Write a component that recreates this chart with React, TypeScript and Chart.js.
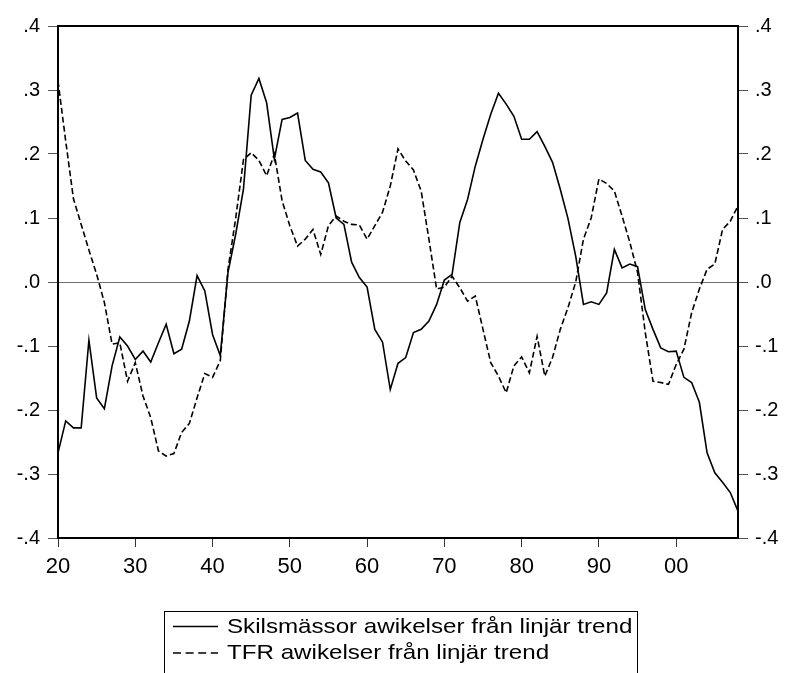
import React, { useEffect, useRef } from 'react';
import { Chart, registerables } from 'chart.js';

Chart.register(...registerables);

const firstYear = 1920;
const lastYear = 2008;

const seriesNames = [
  'Skilsmässor awikelser från linjär trend',
  'TFR awikelser från linjär trend',
];

// Skilsmässor (divorces) deviation from linear trend, 1920-2008
const divorceDev = [
  -0.267, -0.217, -0.228, -0.228, -0.091, -0.181, -0.198, -0.131, -0.086, -0.1,
  -0.121, -0.108, -0.125, -0.095, -0.066, -0.112, -0.105, -0.061, 0.01, -0.014,
  -0.082, -0.115, 0.015, 0.075, 0.145, 0.292, 0.318, 0.28, 0.192, 0.254,
  0.257, 0.264, 0.19, 0.176, 0.172, 0.155, 0.1, 0.09, 0.031, 0.007,
  -0.008, -0.074, -0.094, -0.168, -0.127, -0.118, -0.079, -0.074, -0.061, -0.035,
  0.003, 0.012, 0.093, 0.129, 0.181, 0.223, 0.262, 0.295, 0.278, 0.259,
  0.223, 0.223, 0.235, 0.212, 0.187, 0.145, 0.099, 0.04, -0.035, -0.031,
  -0.035, -0.017, 0.051, 0.022, 0.028, 0.024, -0.043, -0.074, -0.103, -0.109,
  -0.108, -0.149, -0.157, -0.188, -0.267, -0.298, -0.313, -0.329, -0.358,
];

// TFR deviation from linear trend, 1920-2008
const tfrDev = [
  0.314, 0.22, 0.13, 0.09, 0.05, 0.012, -0.032, -0.097, -0.095, -0.155,
  -0.126, -0.178, -0.212, -0.264, -0.272, -0.268, -0.235, -0.221, -0.181, -0.143,
  -0.149, -0.123, 0.02, 0.1, 0.191, 0.202, 0.19, 0.166, 0.2, 0.127,
  0.088, 0.056, 0.067, 0.082, 0.043, 0.088, 0.103, 0.095, 0.09, 0.089,
  0.067, 0.088, 0.109, 0.15, 0.208, 0.189, 0.175, 0.142, 0.067, -0.011,
  -0.008, 0.009, -0.009, -0.03, -0.022, -0.074, -0.126, -0.147, -0.173, -0.131,
  -0.117, -0.142, -0.085, -0.147, -0.118, -0.074, -0.04, 0.0, 0.067, 0.1,
  0.161, 0.154, 0.142, 0.103, 0.062, 0.015, -0.079, -0.155, -0.157, -0.16,
  -0.129, -0.105, -0.048, -0.011, 0.02, 0.028, 0.082, 0.095, 0.119,
];

const xTickYears = [1920, 1930, 1940, 1950, 1960, 1970, 1980, 1990, 2000];
const xTickLabels = ['20', '30', '40', '50', '60', '70', '80', '90', '00'];
const yTickLabels: Record<string, string> = {
  '0.4': '.4', '0.3': '.3', '0.2': '.2', '0.1': '.1', '0': '.0',
  '-0.1': '-.1', '-0.2': '-.2', '-0.3': '-.3', '-0.4': '-.4',
};

const FONT = '"Liberation Sans", Arial, sans-serif';

const yLabel = (v: number | string) => {
  const key = String(Math.round(Number(v) * 10) / 10);
  return yTickLabels[key === '-0' ? '0' : key] ?? '';
};

const framePlugin = {
  id: 'frame',
  beforeDatasetsDraw(chart: any) {
    const { ctx, chartArea } = chart;
    const y0 = chart.scales.y.getPixelForValue(0);
    ctx.save();
    ctx.strokeStyle = '#6e6e6e';
    ctx.lineWidth = 1;
    ctx.beginPath();
    ctx.moveTo(chartArea.left, Math.round(y0) + 0.5);
    ctx.lineTo(chartArea.right, Math.round(y0) + 0.5);
    ctx.stroke();
    ctx.restore();
  },
  afterDatasetsDraw(chart: any) {
    const { ctx, chartArea } = chart;
    ctx.save();
    ctx.strokeStyle = '#000';
    ctx.lineWidth = 2;
    ctx.strokeRect(chartArea.left, chartArea.top, chartArea.right - chartArea.left, chartArea.bottom - chartArea.top);
    ctx.restore();
  },
};

const legendPlugin = {
  id: 'boxLegend',
  afterDraw(chart: any) {
    const ctx = chart.ctx;
    ctx.save();
    ctx.strokeStyle = '#000';
    ctx.lineWidth = 1;
    ctx.strokeRect(164.5, 611.5, 473, 80);
    chart.data.datasets.forEach((ds: any, i: number) => {
      const base = 632.5 + i * 26.5;
      const ly = base - 6;
      ctx.beginPath();
      ctx.setLineDash(i === 0 ? [] : [8, 4.6]);
      ctx.lineWidth = 1.5;
      ctx.strokeStyle = '#000';
      ctx.moveTo(173, ly);
      ctx.lineTo(218, ly);
      ctx.stroke();
      ctx.setLineDash([]);
      ctx.save();
      ctx.translate(227, base);
      ctx.scale(1.15, 1);
      ctx.font = `21px ${FONT}`;
      ctx.fillStyle = '#000';
      ctx.textBaseline = 'alphabetic';
      ctx.textAlign = 'left';
      ctx.fillText(ds.label, 0, 0);
      ctx.restore();
    });
    ctx.restore();
  },
};

export default function App() {
  const ref = useRef<HTMLCanvasElement | null>(null);

  useEffect(() => {
    if (!ref.current) return;
    const toPoints = (arr: number[]) => arr.map((v, i) => ({ x: firstYear + i, y: v }));
    const chart = new Chart(ref.current, {
      type: 'line',
      data: {
        datasets: [
          {
            label: seriesNames[0],
            data: toPoints(divorceDev),
            borderColor: '#000',
            borderWidth: 1.6,
            pointRadius: 0,
            tension: 0,
            fill: false,
          },
          {
            label: seriesNames[1],
            data: toPoints(tfrDev),
            borderColor: '#000',
            borderWidth: 1.6,
            borderDash: [6, 3],
            pointRadius: 0,
            tension: 0,
            fill: false,
          },
        ],
      },
      options: {
        animation: false,
        responsive: true,
        maintainAspectRatio: false,
        layout: { padding: { top: 26, left: 0, right: 0, bottom: 0 } },
        plugins: { legend: { display: false }, tooltip: { enabled: false } },
        scales: {
          x: {
            type: 'linear',
            min: firstYear,
            max: lastYear,
            afterBuildTicks: (scale: any) => {
              scale.ticks = xTickYears.map((v) => ({ value: v }));
            },
            afterFit: (scale: any) => {
              scale.height = 135;
            },
            grid: { drawOnChartArea: false, drawTicks: true, tickLength: 9, color: '#333' },
            border: { display: false },
            ticks: {
              autoSkip: false,
              maxRotation: 0,
              padding: 7,
              color: '#000',
              font: { family: FONT, size: 22 },
              callback: (v: any) => {
                const idx = xTickYears.indexOf(Number(v));
                return idx >= 0 ? xTickLabels[idx] : '';
              },
            },
          },
          y: {
            position: 'left',
            min: -0.4,
            max: 0.4,
            afterFit: (scale: any) => {
              scale.width = 58;
            },
            grid: { drawOnChartArea: false, drawTicks: true, tickLength: 10, color: '#555' },
            border: { display: false },
            ticks: {
              stepSize: 0.1,
              padding: 8,
              color: '#000',
              font: { family: FONT, size: 20 },
              callback: (v: any) => yLabel(v),
            },
          },
          y2: {
            position: 'right',
            min: -0.4,
            max: 0.4,
            afterFit: (scale: any) => {
              scale.width = 47;
            },
            grid: { drawOnChartArea: false, drawTicks: true, tickLength: 10, color: '#555' },
            border: { display: false },
            ticks: {
              stepSize: 0.1,
              padding: 7,
              color: '#000',
              font: { family: FONT, size: 20 },
              callback: (v: any) => yLabel(v),
            },
          },
        },
      },
      plugins: [framePlugin, legendPlugin],
    } as any);
    return () => chart.destroy();
  }, []);

  return (
    <div style={{ position: 'fixed', left: 0, top: 0, width: 785, height: 673, background: '#fff' }}>
      <canvas ref={ref} />
    </div>
  );
}
